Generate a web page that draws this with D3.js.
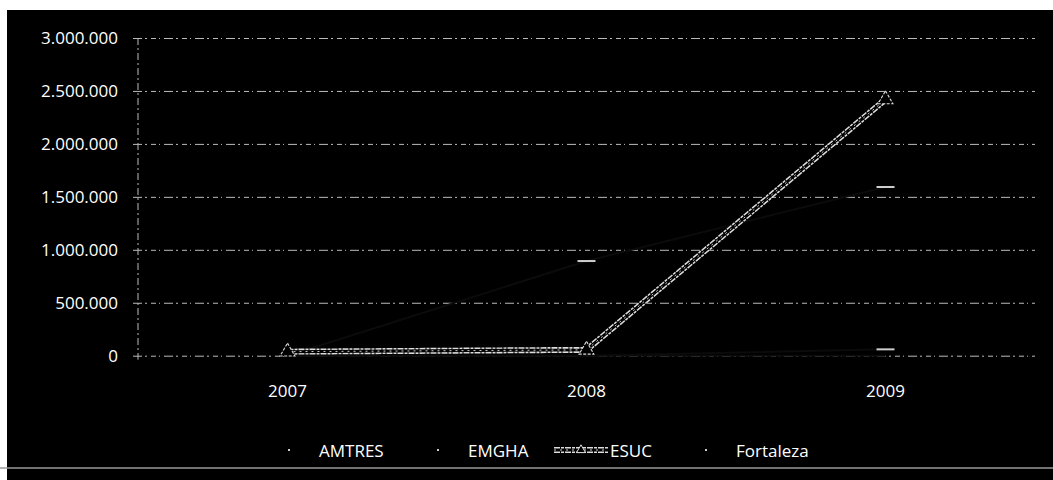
<!DOCTYPE html>
<html>
<head>
<meta charset="utf-8">
<script src="https://cdn.jsdelivr.net/npm/d3@7"></script>
<style>
  body { margin: 0; background: #fff; }
  text { font-family: "Open Sans", sans-serif; fill: #fff; }
</style>
</head>
<body>
<div id="chart"></div>
<script>
// data
const years     = ["2007", "2008", "2009"];
const amtres    = [0, 0, 60000];
const emgha     = [0, 894000, 1593000];
const esuc      = [38000, 55000, 2420000];
const fortaleza = [0, 0, 0];
const yTicks    = [0, 500000, 1000000, 1500000, 2000000, 2500000, 3000000];
const seriesNames = ["AMTRES", "EMGHA", "ESUC", "Fortaleza"];

const width = 1053, height = 480;
const margin = {top: 38, right: 18, bottom: 124.3, left: 138};

const svg = d3.select("#chart").append("svg")
    .attr("width", width)
    .attr("height", height);

// black frame of the scanned page
svg.append("rect")
    .attr("x", 7).attr("y", 10)
    .attr("width", width - 7).attr("height", height - 10)
    .attr("fill", "#000");
svg.append("line")
    .attr("x1", 0).attr("x2", width)
    .attr("y1", 468).attr("y2", 468)
    .attr("stroke", "#999").attr("stroke-width", 1.5);

///////////
/// Axes ///
///////////

const x = d3.scaleBand()
    .domain(years)
    .range([margin.left, width - margin.right]);
const cx = d => x(d) + x.bandwidth() / 2;

const y = d3.scaleLinear()
    .domain([0, 3000000])
    .range([height - margin.bottom, margin.top]);

const locale = d3.formatLocale({decimal: ",", thousands: ".", grouping: [3], currency: ["", ""]});
const fmt = locale.format(",d");

// gridlines + y labels
const yAxis = svg.append("g")
    .attr("transform", "translate(" + margin.left + ",0)")
    .call(d3.axisLeft(y).tickValues(yTicks).tickFormat(fmt)
        .tickSize(-(width - margin.left - margin.right)).tickPadding(20));
yAxis.select(".domain").remove();
yAxis.selectAll(".tick line")
    .attr("x1", -5)
    .attr("stroke", "#bbb")
    .attr("stroke-dasharray", "9,3,2,4,5,3,1,4");
yAxis.selectAll(".tick text")
    .attr("fill", "#fff")
    .style("font-size", "17px");

// vertical axis line
svg.append("line")
    .attr("x1", margin.left).attr("x2", margin.left)
    .attr("y1", y(3000000)).attr("y2", y(0) + 4)
    .attr("stroke", "#bbb")
    .attr("stroke-dasharray", "7,3,2,3");

// x labels
svg.append("g").selectAll("text")
    .data(years)
    .enter().append("text")
    .attr("x", d => cx(d))
    .attr("y", 397)
    .attr("text-anchor", "middle")
    .style("font-size", "17px")
    .text(d => d);

//////////////
/// Series ///
//////////////

const line = d3.line()
    .x((d, i) => cx(years[i]))
    .y(d => y(d));

// dark series barely survive the scan: near-black lines, faint dash markers
[amtres, emgha, fortaleza].forEach(vals => {
    svg.append("path")
        .datum(vals)
        .attr("fill", "none")
        .attr("stroke", "#0b0b0b")
        .attr("stroke-width", 2)
        .attr("d", line);
    svg.append("g").selectAll("rect")
        .data(vals.map((v, i) => ({year: years[i], v: v})).filter(d => d.v > 0))
        .enter().append("rect")
        .attr("x", d => cx(d.year) - 9)
        .attr("y", d => y(d.v) - 1)
        .attr("width", 18).attr("height", 2)
        .attr("fill", "#ccc");
});

// ESUC: light, grainy double line with triangle markers
function esucLine(sel) {
    sel.append("path").attr("stroke", "#ddd").attr("stroke-width", 6)
        .attr("stroke-dasharray", "6,1,3,1");
    sel.append("path").attr("stroke", "#000").attr("stroke-width", 3);
    sel.append("path").attr("stroke", "#ccc").attr("stroke-width", 1)
        .attr("stroke-dasharray", "2,4");
    sel.selectAll("path").attr("fill", "none");
}
const esucG = svg.append("g");
esucLine(esucG);
esucG.selectAll("path").datum(esuc).attr("d", line);

const tri = d3.symbol().type(d3.symbolTriangle).size(95);
svg.append("g").selectAll("path")
    .data(esuc)
    .enter().append("path")
    .attr("d", tri)
    .attr("transform", (d, i) => "translate(" + cx(years[i]) + "," + y(d) + ")")
    .attr("fill", "#000")
    .attr("stroke", "#ddd")
    .attr("stroke-width", 1.1)
    .attr("stroke-dasharray", "3,1.5");

//////////////
/// Legend ///
//////////////

const legendX = [319, 468, 610, 736];
const legendY = 457;
const legend = svg.append("g");

seriesNames.forEach((name, i) => {
    legend.append("text")
        .attr("x", legendX[i])
        .attr("y", legendY)
        .style("font-size", "17px")
        .text(name);
    if (name === "ESUC") {
        const g = legend.append("g");
        esucLine(g);
        g.selectAll("path").attr("d", "M" + (legendX[i] - 56) + "," + (legendY - 7) + "H" + (legendX[i] - 2));
        legend.append("path")
            .attr("d", d3.symbol().type(d3.symbolTriangle).size(35))
            .attr("transform", "translate(" + (legendX[i] - 29) + "," + (legendY - 7) + ")")
            .attr("fill", "#000").attr("stroke", "#ddd");
    } else {
        legend.append("rect")
            .attr("x", legendX[i] - 31).attr("y", legendY - 8)
            .attr("width", 2).attr("height", 2)
            .attr("fill", "#ccc");
    }
});
</script>
</body>
</html>
